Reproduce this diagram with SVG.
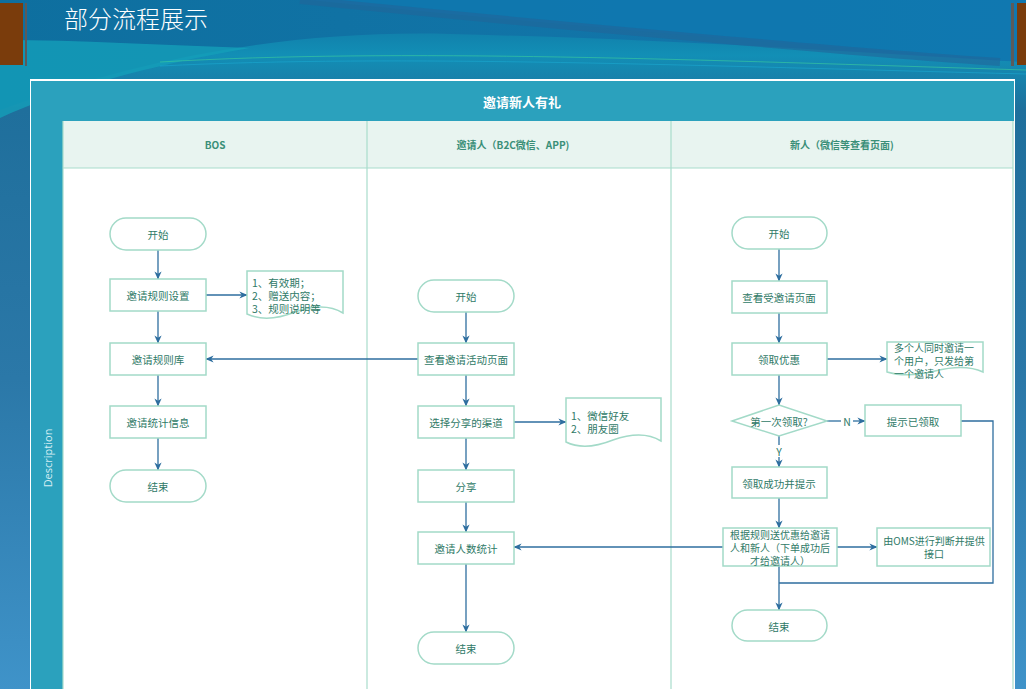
<svg xmlns="http://www.w3.org/2000/svg" width="1026" height="689" viewBox="0 0 1026 689">
<defs>
<linearGradient id="bg" x1="0" y1="0" x2="0" y2="1">
<stop offset="0" stop-color="#0f6c9c"/>
<stop offset="0.08" stop-color="#128fb6"/>
<stop offset="0.16" stop-color="#1f6f9c"/>
<stop offset="0.55" stop-color="#2b78a8"/>
<stop offset="1" stop-color="#3f93c9"/>
</linearGradient>
<linearGradient id="top" x1="0" y1="0" x2="1" y2="0">
<stop offset="0" stop-color="#0e6f9f"/>
<stop offset="1" stop-color="#1478ae"/>
</linearGradient>
<marker id="ah" viewBox="0 0 10 10" refX="9.5" refY="5" markerWidth="8" markerHeight="8" orient="auto" markerUnits="userSpaceOnUse">
<path d="M0,0.5 L10,5 L0,9.5 L3,5 Z" fill="#2e6e9f"/>
</marker>
</defs>
<style>
.node{fill:#ffffff;stroke:#a3dac8;stroke-width:1.5}
.t{font-family:"Noto Sans CJK SC","Liberation Sans",sans-serif;font-size:10.5px;fill:#2f7a67;text-anchor:middle;dominant-baseline:central}
.ts{font-family:"Noto Sans CJK SC","Liberation Sans",sans-serif;font-size:10px;fill:#2f7a67;text-anchor:middle;dominant-baseline:central}
.tl{font-family:"Noto Sans CJK SC","Liberation Sans",sans-serif;font-size:10.5px;fill:#2f7a67;text-anchor:start;dominant-baseline:central}
.tls{font-family:"Noto Sans CJK SC","Liberation Sans",sans-serif;font-size:10px;fill:#2f7a67;text-anchor:start;dominant-baseline:central}
.lane{font-family:"Noto Sans CJK SC","Liberation Sans",sans-serif;font-size:10px;font-weight:bold;fill:#3a8f78;text-anchor:middle;dominant-baseline:central}
.c{fill:none;stroke:#2e6e9f;stroke-width:1.3}
.ca{fill:none;stroke:#2e6e9f;stroke-width:1.3;marker-end:url(#ah)}
.grid{fill:none;stroke:#a8dccb;stroke-width:1.2}
</style>

<!-- background -->
<g id="background">
<rect x="0" y="0" width="1026" height="689" fill="url(#bg)"/>
<path d="M0,0 H1026 V62 C900,55 700,40 450,34 C300,30 150,55 0,110 Z" fill="url(#top)"/>
<path d="M0,40 C80,40 160,45 250,48 C150,65 60,90 0,118 Z" fill="#149fb9" opacity="0.8"/>
<path d="M310,0 C500,20 800,45 1026,62 V0 Z" fill="#0f78b0" opacity="0.8"/>
<path d="M300,0 C550,25 850,52 1000,62" fill="none" stroke="#22659a" stroke-width="8" opacity="0.6"/>
<path d="M160,62 C400,48 700,60 1026,70" fill="none" stroke="#3ccf9c" stroke-width="1" opacity="0.6"/>
<path d="M160,66 C400,54 700,66 1026,74" fill="none" stroke="#1aa8d0" stroke-width="1" opacity="0.6"/>
<rect x="0" y="3" width="23" height="62" fill="#7a3c0c"/>
<rect x="25" y="3" width="2" height="63" fill="#5b5b5b"/>
<rect x="1011" y="3" width="3" height="63" fill="#5b5b5b"/>
<rect x="1017" y="3" width="9" height="62" fill="#7a3c0c"/>
<text x="64" y="28" font-family="'Noto Sans CJK SC','Liberation Sans',sans-serif" font-size="24" font-weight="300" fill="#ffffff">部分流程展示</text>
</g>

<!-- pool frame -->
<g id="pool">
<rect x="30" y="79" width="985" height="610" fill="#ffffff"/>
<rect x="31" y="81" width="983" height="40" fill="#2ba1bd"/>
<rect x="31" y="121" width="32" height="568" fill="#2ba1bd"/>
<text x="522" y="101" font-family="'Noto Sans CJK SC','Liberation Sans',sans-serif" font-size="13" font-weight="bold" fill="#ffffff" text-anchor="middle" dominant-baseline="central">邀请新人有礼</text>
<text x="0" y="0" transform="translate(47,458) rotate(-90)" font-family="'Open Sans','Liberation Sans',sans-serif" font-size="11" fill="#d6eef3" text-anchor="middle" dominant-baseline="central">Description</text>
<rect x="63" y="121" width="950" height="47" fill="#e8f4f0"/>
<line x1="63" y1="168" x2="1013" y2="168" class="grid"/>
<line x1="63" y1="121" x2="63" y2="689" class="grid"/>
<line x1="367" y1="121" x2="367" y2="689" class="grid"/>
<line x1="671" y1="121" x2="671" y2="689" class="grid"/>
<line x1="1013" y1="121" x2="1013" y2="689" class="grid"/>
<text class="lane" x="215" y="144">BOS</text>
<text class="lane" x="513" y="144">邀请人（B2C微信、APP)</text>
<text class="lane" x="842" y="144">新人（微信等查看页面)</text>
</g>

<!-- connectors -->
<g id="connectors">
<line class="ca" x1="158" y1="250" x2="158" y2="279"/>
<line class="ca" x1="158" y1="311" x2="158" y2="343"/>
<line class="ca" x1="158" y1="375" x2="158" y2="406"/>
<line class="ca" x1="158" y1="438" x2="158" y2="470"/>
<line class="ca" x1="206" y1="295" x2="247" y2="295"/>
<line class="ca" x1="418" y1="359" x2="206" y2="359"/>
<line class="ca" x1="466" y1="312" x2="466" y2="343"/>
<line class="ca" x1="466" y1="375" x2="466" y2="406"/>
<line class="ca" x1="514" y1="422" x2="566" y2="422"/>
<line class="ca" x1="466" y1="438" x2="466" y2="470"/>
<line class="ca" x1="466" y1="502" x2="466" y2="532"/>
<line class="ca" x1="466" y1="564" x2="466" y2="632"/>
<line class="ca" x1="723" y1="547" x2="514" y2="547"/>
<line class="ca" x1="837" y1="547" x2="877" y2="547"/>
<line class="ca" x1="779" y1="249" x2="779" y2="281"/>
<line class="ca" x1="779" y1="313" x2="779" y2="343"/>
<line class="ca" x1="779" y1="375" x2="779" y2="405"/>
<line class="ca" x1="827" y1="359" x2="887" y2="359"/>
<line class="c" x1="827" y1="421" x2="841" y2="421"/>
<line class="ca" x1="853" y1="421" x2="865" y2="421"/>
<text class="t" x="847" y="421">N</text>
<line class="c" x1="779" y1="436" x2="779" y2="445"/>
<line class="ca" x1="779" y1="457" x2="779" y2="467"/>
<text class="t" x="779" y="451">Y</text>
<line class="ca" x1="779" y1="498" x2="779" y2="528"/>
<line class="ca" x1="779" y1="566" x2="779" y2="610"/>
<polyline class="c" points="961,421 993,421 993,583 779,583"/>
</g>

<!-- BOS lane -->
<g id="bos-start"><rect class="node" x="110" y="218" width="96" height="32" rx="16"/><text class="t" x="158" y="234">开始</text></g>
<g id="bos-rule-setting"><rect class="node" x="110" y="279" width="96" height="32"/><text class="t" x="158" y="295">邀请规则设置</text></g>
<g id="bos-rule-note"><path class="node" d="M247,271 H343 V313 C330,305 315,305 295,312 C275,320 260,320 247,314 Z"/>
<text class="tl" x="252" y="282">1、有效期；</text><text class="tl" x="252" y="295">2、赠送内容；</text><text class="tl" x="252" y="308">3、规则说明等</text></g>
<g id="bos-rule-lib"><rect class="node" x="110" y="343" width="96" height="32"/><text class="t" x="158" y="359">邀请规则库</text></g>
<g id="bos-stat"><rect class="node" x="110" y="406" width="96" height="32"/><text class="t" x="158" y="422">邀请统计信息</text></g>
<g id="bos-end"><rect class="node" x="110" y="470" width="96" height="32" rx="16"/><text class="t" x="158" y="486">结束</text></g>

<!-- inviter lane -->
<g id="inv-start"><rect class="node" x="418" y="280" width="96" height="32" rx="16"/><text class="t" x="466" y="296">开始</text></g>
<g id="inv-view"><rect class="node" x="418" y="343" width="96" height="32"/><text class="t" x="466" y="359">查看邀请活动页面</text></g>
<g id="inv-channel"><rect class="node" x="418" y="406" width="96" height="32"/><text class="t" x="466" y="422">选择分享的渠道</text></g>
<g id="inv-channel-note"><path class="node" d="M566,398 H661 V441 C648,433 633,433 613,440 C593,448 578,448 566,442 Z"/>
<text class="tl" x="571" y="415">1、微信好友</text><text class="tl" x="571" y="428">2、朋友圈</text></g>
<g id="inv-share"><rect class="node" x="418" y="470" width="96" height="32"/><text class="t" x="466" y="486">分享</text></g>
<g id="inv-count"><rect class="node" x="418" y="532" width="96" height="32"/><text class="t" x="466" y="548">邀请人数统计</text></g>
<g id="inv-end"><rect class="node" x="418" y="632" width="96" height="32" rx="16"/><text class="t" x="466" y="648">结束</text></g>

<!-- new user lane -->
<g id="new-start"><rect class="node" x="732" y="217" width="95" height="32" rx="16"/><text class="t" x="779" y="233">开始</text></g>
<g id="new-view"><rect class="node" x="732" y="281" width="95" height="32"/><text class="t" x="779" y="297">查看受邀请页面</text></g>
<g id="new-claim"><rect class="node" x="732" y="343" width="95" height="32"/><text class="t" x="779" y="359">领取优惠</text></g>
<g id="new-claim-note"><path class="node" d="M887,342 H983 V372 C970,366 955,366 935,371 C915,376 900,376 887,372 Z"/>
<text class="tls" x="894" y="347">多个人同时邀请一</text><text class="tls" x="894" y="360">个用户，只发给第</text><text class="tls" x="894" y="373">一个邀请人</text></g>
<g id="new-first"><polygon class="node" points="732,421 779,405 827,421 779,436"/><text class="t" x="779" y="421">第一次领取?</text></g>
<g id="new-already"><rect class="node" x="865" y="405" width="96" height="31"/><text class="t" x="913" y="421">提示已领取</text></g>
<g id="new-success"><rect class="node" x="732" y="467" width="95" height="31"/><text class="t" x="779" y="483">领取成功并提示</text></g>
<g id="new-send"><rect class="node" x="723" y="528" width="114" height="38"/>
<text class="ts" x="780" y="534">根据规则送优惠给邀请</text><text class="ts" x="780" y="547">人和新人（下单成功后</text><text class="ts" x="780" y="560">才给邀请人）</text></g>
<g id="new-oms"><rect class="node" x="877" y="528" width="113" height="38"/>
<text class="ts" x="934" y="540.5">由OMS进行判断并提供</text><text class="ts" x="934" y="553.5">接口</text></g>
<g id="new-end"><rect class="node" x="732" y="610" width="95" height="31" rx="15.5"/><text class="t" x="779" y="626">结束</text></g>
</svg>
